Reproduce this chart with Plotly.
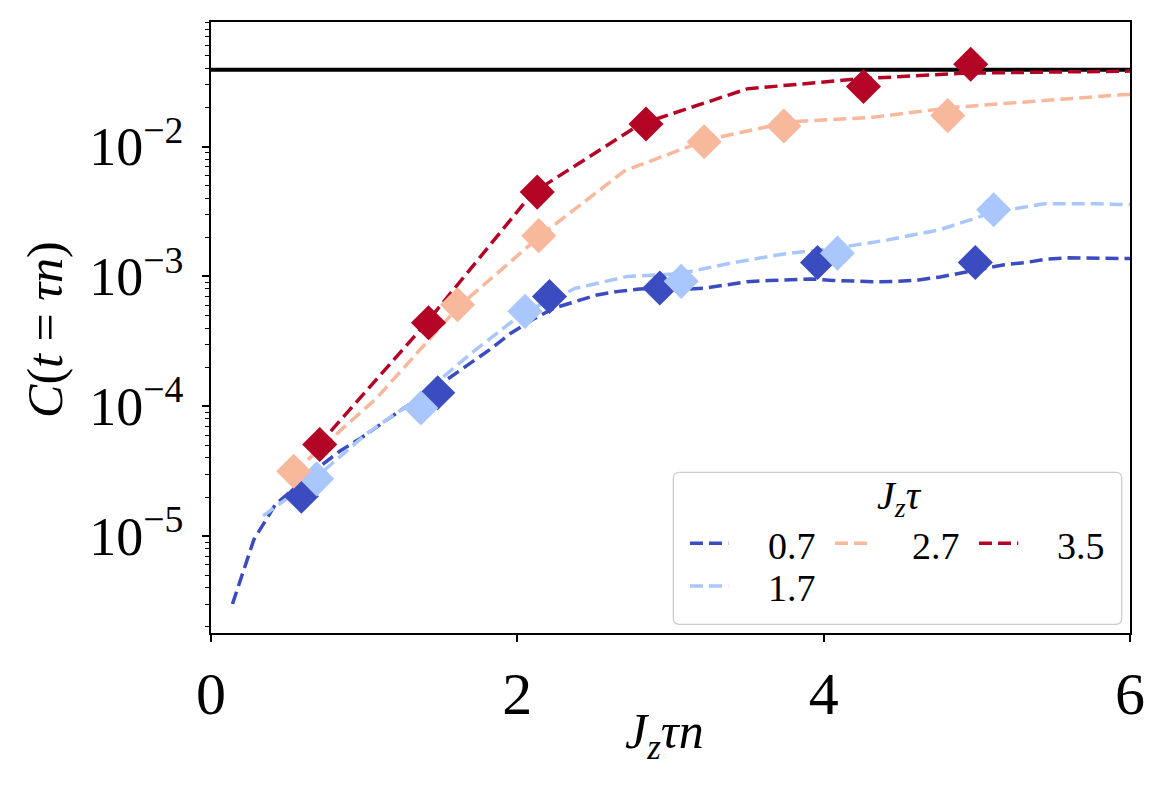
import plotly.graph_objects as go

# ---------------- data ----------------
series_labels = ["0.7", "1.7", "2.7", "3.5"]
colors = ["#3b4cc0", "#aac7fd", "#f7b89c", "#b40426"]

# simulation curves (dashed lines)
line_x_07 = [0.14, 0.28, 0.42, 0.56, 0.70, 0.84, 0.98, 1.12, 1.26, 1.40, 1.54, 1.68, 1.82, 1.96,
             2.10, 2.24, 2.38, 2.52, 2.66, 2.80, 2.94, 3.08, 3.22, 3.36, 3.50, 3.64, 3.78, 3.92,
             4.06, 4.20, 4.34, 4.48, 4.62, 4.76, 4.90, 5.04, 5.18, 5.32, 5.46, 5.60, 5.74, 5.88, 6.02]
line_y_07 = [3.0e-6, 9.4e-6, 1.75e-5, 2.43e-5, 3.36e-5, 4.5e-5, 5.7e-5, 7.45e-5, 9.7e-5, 1.23e-4,
             1.6e-4, 2.09e-4, 2.73e-4, 3.67e-4, 4.65e-4, 5.7e-4, 6.43e-4, 7.2e-4, 7.67e-4, 8.0e-4,
             8.15e-4, 7.95e-4, 8.1e-4, 8.6e-4, 9.1e-4, 9.3e-4, 9.4e-4, 9.55e-4, 9.3e-4, 9.15e-4,
             9.1e-4, 9.15e-4, 9.4e-4, 9.9e-4, 1.06e-3, 1.14e-3, 1.23e-3, 1.28e-3, 1.36e-3, 1.39e-3,
             1.39e-3, 1.38e-3, 1.37e-3]

line_x_17 = [0.34, 0.68, 1.02, 1.36, 1.70, 2.04, 2.38, 2.72, 3.06, 3.40, 3.74, 4.08, 4.42, 4.76,
             5.10, 5.44, 5.78, 6.12]
line_y_17 = [1.43e-5, 2.8e-5, 6.2e-5, 1.17e-4, 2.57e-4, 5.25e-4, 8.1e-4, 1.0e-3, 1.05e-3, 1.27e-3,
             1.49e-3, 1.65e-3, 1.91e-3, 2.29e-3, 3.1e-3, 3.62e-3, 3.62e-3, 3.54e-3]

line_x_27 = [0.54, 1.08, 1.62, 2.16, 2.70, 3.24, 3.78, 4.32, 4.86, 5.40, 5.94, 6.48]
line_y_27 = [3.1e-5, 1.15e-4, 5.9e-4, 2.1e-3, 6.5e-3, 0.0113, 0.0155, 0.0168, 0.0201, 0.0225,
             0.025, 0.0265]

line_x_35 = [0.70, 1.40, 2.10, 2.80, 3.50, 4.20, 4.90, 5.60, 6.30]
line_y_35 = [5.0e-5, 4.3e-4, 4.4e-3, 0.0148, 0.0278, 0.033, 0.0367, 0.0378, 0.0385]

# measured points (diamonds)
pts_x_07 = [0.59, 1.48, 2.21, 2.93, 3.96, 4.99]
pts_y_07 = [2.03e-5, 1.27e-4, 7.0e-4, 8.15e-4, 1.28e-3, 1.28e-3]
pts_x_17 = [0.69, 1.37, 2.05, 3.07, 4.09, 5.11]
pts_y_17 = [2.76e-5, 9.7e-5, 5.38e-4, 9.16e-4, 1.51e-3, 3.26e-3]
pts_x_27 = [0.54, 1.61, 2.14, 3.22, 3.74, 4.81]
pts_y_27 = [3.16e-5, 6.05e-4, 2.06e-3, 0.0109, 0.0144, 0.0173]
pts_x_35 = [0.71, 1.42, 2.13, 2.84, 4.26, 4.96]
pts_y_35 = [5.07e-5, 4.4e-4, 4.46e-3, 0.0149, 0.029, 0.043]

saturation_x = [0, 6]
saturation_y = [0.039, 0.039]

x_ticks = [0, 2, 4, 6]
y_ticks = [1e-5, 1e-4, 1e-3, 1e-2]
y_ticktext = ["10<sup>\u22125</sup>", "10<sup>\u22124</sup>", "10<sup>\u22123</sup>", "10<sup>\u22122</sup>"]

lines_x = [line_x_07, line_x_17, line_x_27, line_x_35]
lines_y = [line_y_07, line_y_17, line_y_27, line_y_35]
pts_x = [pts_x_07, pts_x_17, pts_x_27, pts_x_35]
pts_y = [pts_y_07, pts_y_17, pts_y_27, pts_y_35]

FONT = "Liberation Serif"
DASH = "13px,6px"

fig = go.Figure()

fig.add_trace(go.Scatter(x=saturation_x, y=saturation_y, mode="lines",
                         line=dict(color="black", width=4), showlegend=False,
                         hoverinfo="skip"))

for lx, ly, c, lab in zip(lines_x, lines_y, colors, series_labels):
    fig.add_trace(go.Scatter(x=lx, y=ly, mode="lines", name=lab,
                             line=dict(color=c, width=3.5, dash=DASH),
                             showlegend=False))

for px_, py_, c, lab in zip(pts_x, pts_y, colors, series_labels):
    fig.add_trace(go.Scatter(x=px_, y=py_, mode="markers", name=lab,
                             marker=dict(symbol="diamond", size=27, color=c,
                                         line=dict(width=0)),
                             showlegend=False))

minor_vals = [m * 10.0 ** e for e in range(-6, 0) for m in range(2, 10)]

fig.update_layout(
    width=1160, height=785,
    margin=dict(l=211, r=30, t=22, b=152),
    plot_bgcolor="white", paper_bgcolor="white",
    showlegend=False,
    font=dict(family=FONT, color="black"),
)

fig.update_xaxes(
    range=[0, 6], tickvals=x_ticks, ticktext=[str(v) for v in x_ticks],
    ticks="outside", ticklen=7, tickwidth=1.5, tickcolor="black",
    showline=True, linecolor="black", linewidth=1.5, mirror=True,
    showgrid=False, zeroline=False,
    tickfont=dict(size=60, family=FONT, color="black"),
    ticklabelstandoff=0,
)
fig.update_yaxes(
    type="log", range=[-5.746, -1.041],
    tickvals=y_ticks, ticktext=y_ticktext,
    ticks="outside", ticklen=7, tickwidth=1.5, tickcolor="black",
    showline=True, linecolor="black", linewidth=1.5, mirror=True,
    showgrid=False, zeroline=False,
    tickfont=dict(size=54, family=FONT, color="black"),
    ticklabelstandoff=8,
    minor=dict(ticks="outside", ticklen=4, tickwidth=1.2, tickcolor="black",
               tickvals=minor_vals, showgrid=False),
)

# axis titles
fig.add_annotation(text="<i>J<sub>z</sub>\u03c4n</i>", xref="paper", yref="paper",
                   x=0.494, y=-0.167, xanchor="center", yanchor="middle",
                   showarrow=False, font=dict(size=50, family=FONT))
fig.add_annotation(text="<i>C</i>(<i>t</i> = <i>\u03c4n</i>)", xref="paper", yref="paper",
                   x=-0.1806, y=0.496, xanchor="center", yanchor="middle", textangle=-90,
                   showarrow=False, font=dict(size=50, family=FONT))

# legend box (rounded)
L, R, T, B = 0.5031, 0.9910, 0.2630, 0.01424
rx, ry = 0.0065, 0.0098
path = (f"M{L+rx},{B} L{R-rx},{B} Q{R},{B} {R},{B+ry} L{R},{T-ry} Q{R},{T} {R-rx},{T} "
        f"L{L+rx},{T} Q{L},{T} {L},{T-ry} L{L},{B+ry} Q{L},{B} {L+rx},{B} Z")
fig.add_shape(type="path", path=path, xref="paper", yref="paper",
              fillcolor="rgba(255,255,255,0.8)", line=dict(color="#cccccc", width=1.3))

fig.add_annotation(text="<i>J<sub>z</sub>\u03c4</i>", xref="paper", yref="paper",
                   x=0.7497, y=0.221, xanchor="center", yanchor="middle",
                   showarrow=False, font=dict(size=40, family=FONT))

leg_line_x0 = [0.5212, 0.5212, 0.6790, 0.8357]
leg_line_x1 = [0.5629, 0.5629, 0.7200, 0.8784]
leg_text_x = [0.6039, 0.6039, 0.7606, 0.9184]
leg_y = [0.1468, 0.0769, 0.1468, 0.1468]
for i, (c, lab) in enumerate(zip(colors, series_labels)):
    fig.add_shape(type="line", xref="paper", yref="paper",
                  x0=leg_line_x0[i], x1=leg_line_x1[i], y0=leg_y[i], y1=leg_y[i],
                  line=dict(color=c, width=3.5, dash=DASH))
    fig.add_annotation(text=lab, xref="paper", yref="paper",
                       x=leg_text_x[i], y=leg_y[i] - 0.004, xanchor="left", yanchor="middle",
                       showarrow=False, font=dict(size=38, family=FONT))

fig.write_html("out.html")
